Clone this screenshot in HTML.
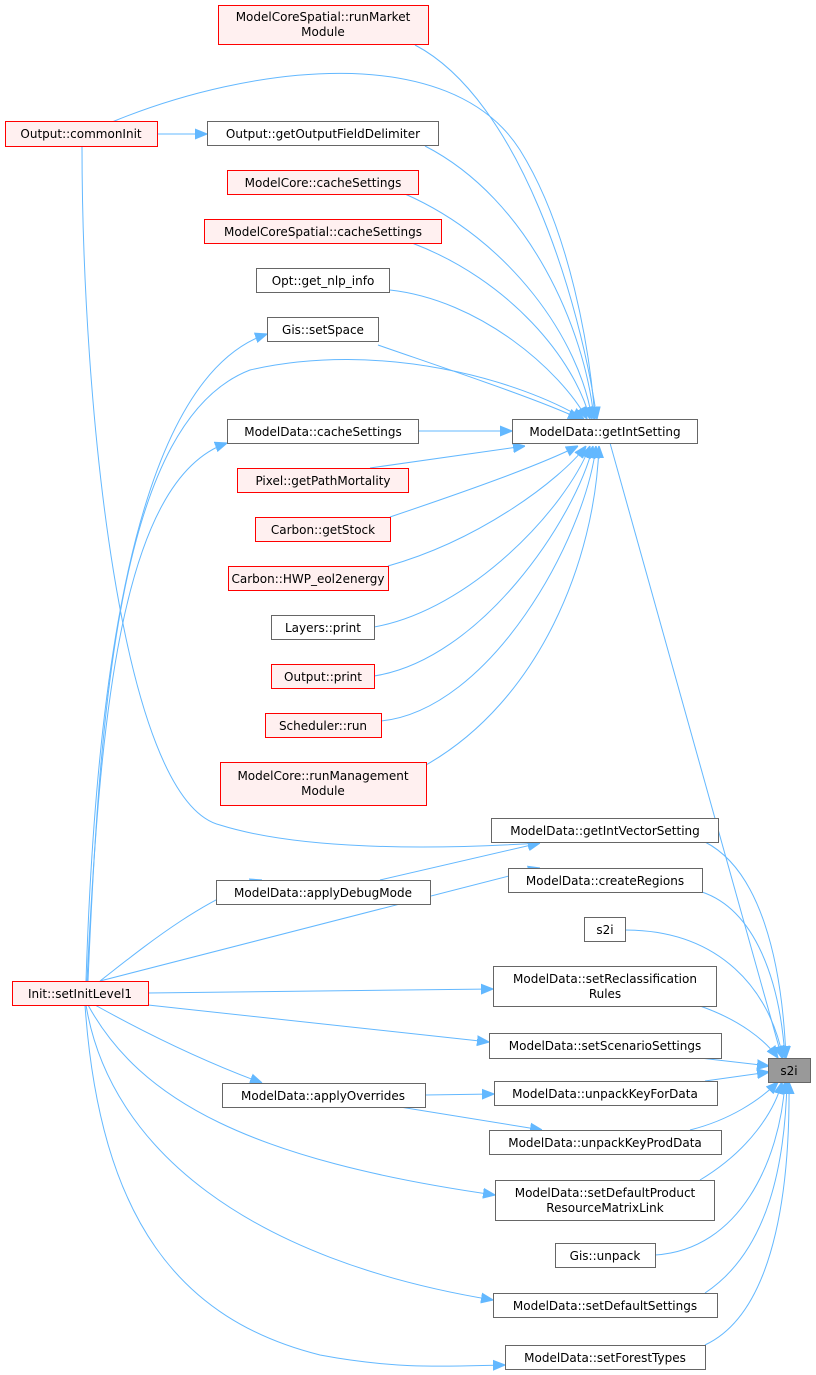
<!DOCTYPE html>
<html><head><meta charset="utf-8"><style>
html,body{margin:0;padding:0;background:#fff;}
svg{display:block}
text{font-family:"DejaVu Sans","Liberation Sans",sans-serif;font-size:12px;fill:#000;text-anchor:middle}
.r{fill:#fff0f0;stroke:#ff0000;stroke-width:1}
.g{fill:#fff;stroke:#666;stroke-width:1}
.e{fill:none;stroke:#63b8ff;stroke-width:1}
</style></head><body>
<svg width="816" height="1375" viewBox="0 0 816 1375" xmlns="http://www.w3.org/2000/svg">
<defs><marker id="a" viewBox="0 0 10 10" refX="10" refY="5" markerWidth="12" markerHeight="12" markerUnits="userSpaceOnUse" orient="auto"><path d="M0,1 L10,5 L0,9 z" fill="#63b8ff" stroke="#63b8ff"/></marker></defs>
<g class="edges">
<path class="e" marker-end="url(#a)" d="M415,45 C520,100 580,300 597,419"/>
<path class="e" marker-end="url(#a)" d="M112,122 C250,65 450,40 520,150 C570,230 590,350 595,419"/>
<path class="e" marker-end="url(#a)" d="M425,146 C530,200 585,330 594,419"/>
<path class="e" marker-end="url(#a)" d="M405,194 C510,240 580,340 592,419"/>
<path class="e" marker-end="url(#a)" d="M412,243 C510,280 575,360 590,419"/>
<path class="e" marker-end="url(#a)" d="M390,290 C480,300 560,370 587,419"/>
<path class="e" marker-end="url(#a)" d="M378,345 C450,370 540,400 580,419"/>
<path class="e" marker-end="url(#a)" d="M88,981 C100,700 120,420 250,370 C380,340 520,380 584,419"/>
<path class="e" marker-end="url(#a)" d="M418,431 L512,431"/>
<path class="e" marker-end="url(#a)" d="M370,468 L525,446"/>
<path class="e" marker-end="url(#a)" d="M390,517 C470,490 540,465 578,446"/>
<path class="e" marker-end="url(#a)" d="M388,566 C480,540 560,480 586,446"/>
<path class="e" marker-end="url(#a)" d="M374,627 C470,610 565,510 590,446"/>
<path class="e" marker-end="url(#a)" d="M374,676 C480,660 575,520 593,446"/>
<path class="e" marker-end="url(#a)" d="M381,721 C490,710 585,540 596,446"/>
<path class="e" marker-end="url(#a)" d="M426,765 C540,700 595,560 599,446"/>
<path class="e" marker-end="url(#a)" d="M86,981 C95,700 130,380 267,334"/>
<path class="e" marker-end="url(#a)" d="M87,981 C100,720 120,480 227,443"/>
<path class="e" marker-end="url(#a)" d="M82,146 C82,400 120,800 220,825 C300,850 430,850 540,843"/>
<path class="e" marker-end="url(#a)" d="M380,880 L540,843"/>
<path class="e" marker-end="url(#a)" d="M100,981 C140,950 200,900 262,880"/>
<path class="e" marker-end="url(#a)" d="M100,981 L540,868"/>
<path class="e" marker-end="url(#a)" d="M148,993 L493,989"/>
<path class="e" marker-end="url(#a)" d="M148,1005 L489,1042"/>
<path class="e" marker-end="url(#a)" d="M95,1005 C140,1030 200,1060 262,1083"/>
<path class="e" marker-end="url(#a)" d="M425,1095 L494,1094"/>
<path class="e" marker-end="url(#a)" d="M400,1107 L542,1130"/>
<path class="e" marker-end="url(#a)" d="M88,1005 C140,1100 250,1160 495,1195"/>
<path class="e" marker-end="url(#a)" d="M86,1005 C110,1150 250,1260 493,1300"/>
<path class="e" marker-end="url(#a)" d="M85,1005 C100,1220 180,1320 320,1355 C400,1370 450,1366 505,1365"/>
<path class="e" marker-end="url(#a)" d="M610,443 L782,1058"/>
<path class="e" marker-end="url(#a)" d="M705,842 C760,870 782,960 786,1058"/>
<path class="e" marker-end="url(#a)" d="M702,892 C755,910 780,980 785,1058"/>
<path class="e" marker-end="url(#a)" d="M625,930 C720,930 770,990 783,1058"/>
<path class="e" marker-end="url(#a)" d="M700,1006 C740,1020 765,1040 778,1058"/>
<path class="e" marker-end="url(#a)" d="M700,1058 L769,1066"/>
<path class="e" marker-end="url(#a)" d="M705,1081 L769,1072"/>
<path class="e" marker-end="url(#a)" d="M690,1130 C730,1120 760,1100 778,1082"/>
<path class="e" marker-end="url(#a)" d="M700,1180 C750,1150 775,1110 782,1082"/>
<path class="e" marker-end="url(#a)" d="M655,1255 C740,1250 780,1160 785,1082"/>
<path class="e" marker-end="url(#a)" d="M705,1293 C770,1250 785,1160 787,1082"/>
<path class="e" marker-end="url(#a)" d="M705,1345 C780,1310 790,1170 789,1082"/>
<path class="e" marker-end="url(#a)" d="M157,134 L207,134"/>
</g>
<g>
<rect class="r" x="218.5" y="5.5" width="210" height="39"/><text x="323" y="21">ModelCoreSpatial::runMarket</text><text x="323" y="36">Module</text>
<rect class="r" x="5.5" y="121.5" width="152" height="25"/><text x="81" y="138">Output::commonInit</text>
<rect class="g" x="207.5" y="121.5" width="231" height="24"/><text x="323" y="138">Output::getOutputFieldDelimiter</text>
<rect class="r" x="227.5" y="170.5" width="191" height="24"/><text x="323" y="187">ModelCore::cacheSettings</text>
<rect class="r" x="204.5" y="219.5" width="237" height="24"/><text x="323" y="236">ModelCoreSpatial::cacheSettings</text>
<rect class="g" x="256.5" y="268.5" width="133" height="24"/><text x="323" y="285">Opt::get_nlp_info</text>
<rect class="g" x="267.5" y="317.5" width="111" height="24"/><text x="323" y="334">Gis::setSpace</text>
<rect class="g" x="512.5" y="419.5" width="185" height="24"/><text x="605" y="436">ModelData::getIntSetting</text>
<rect class="g" x="227.5" y="419.5" width="191" height="24"/><text x="323" y="436">ModelData::cacheSettings</text>
<rect class="r" x="237.5" y="468.5" width="171" height="24"/><text x="323" y="485">Pixel::getPathMortality</text>
<rect class="r" x="255.5" y="517.5" width="135" height="24"/><text x="323" y="534">Carbon::getStock</text>
<rect class="r" x="228.5" y="566.5" width="160" height="24"/><text x="308" y="583">Carbon::HWP_eol2energy</text>
<rect class="g" x="271.5" y="615.5" width="103" height="24"/><text x="323" y="632">Layers::print</text>
<rect class="r" x="271.5" y="664.5" width="103" height="24"/><text x="323" y="681">Output::print</text>
<rect class="r" x="265.5" y="713.5" width="116" height="24"/><text x="323" y="730">Scheduler::run</text>
<rect class="r" x="220.5" y="762.5" width="206" height="43"/><text x="323" y="780">ModelCore::runManagement</text><text x="323" y="795">Module</text>
<rect class="g" x="491.5" y="818.5" width="227" height="24"/><text x="605" y="835">ModelData::getIntVectorSetting</text>
<rect class="g" x="216.5" y="880.5" width="214" height="24"/><text x="323" y="897">ModelData::applyDebugMode</text>
<rect class="g" x="508.5" y="868.5" width="194" height="24"/><text x="605" y="885">ModelData::createRegions</text>
<rect class="g" x="584.5" y="917.5" width="41" height="24"/><text x="605" y="934">s2i</text>
<rect class="r" x="12.5" y="981.5" width="136" height="24"/><text x="80" y="998">Init::setInitLevel1</text>
<rect class="g" x="493.5" y="966.5" width="223" height="40"/><text x="605" y="983">ModelData::setReclassification</text><text x="605" y="998">Rules</text>
<rect class="g" x="489.5" y="1033.5" width="232" height="25"/><text x="605" y="1050">ModelData::setScenarioSettings</text>
<rect x="768.5" y="1058.5" width="42" height="24" fill="#999" stroke="#666"/><text x="789" y="1075">s2i</text>
<rect class="g" x="222.5" y="1083.5" width="203" height="24"/><text x="323" y="1100">ModelData::applyOverrides</text>
<rect class="g" x="494.5" y="1081.5" width="223" height="24"/><text x="605" y="1098">ModelData::unpackKeyForData</text>
<rect class="g" x="489.5" y="1130.5" width="232" height="24"/><text x="605" y="1147">ModelData::unpackKeyProdData</text>
<rect class="g" x="495.5" y="1180.5" width="219" height="40"/><text x="605" y="1197">ModelData::setDefaultProduct</text><text x="605" y="1212">ResourceMatrixLink</text>
<rect class="g" x="555.5" y="1243.5" width="100" height="24"/><text x="605" y="1260">Gis::unpack</text>
<rect class="g" x="493.5" y="1293.5" width="224" height="24"/><text x="605" y="1310">ModelData::setDefaultSettings</text>
<rect class="g" x="505.5" y="1345.5" width="200" height="24"/><text x="605" y="1362">ModelData::setForestTypes</text>
</g>
</svg>
</body></html>
